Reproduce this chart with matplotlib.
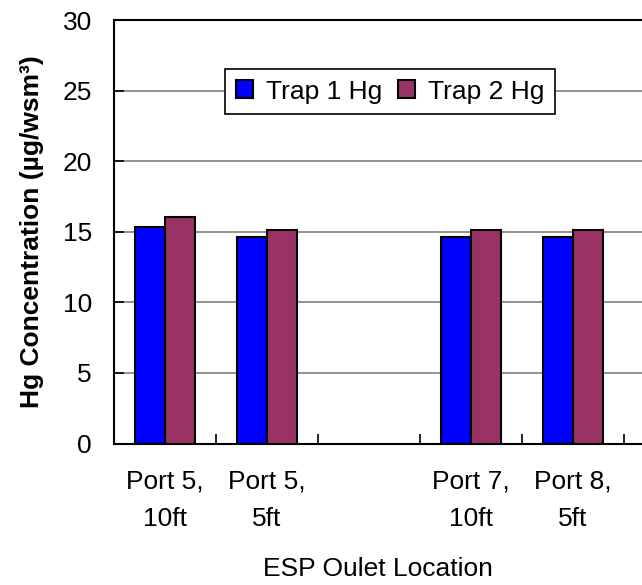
import numpy as np
import matplotlib
matplotlib.use("Agg")
from matplotlib import pyplot as plt

# data
locations = ["Port 5,\n10ft", "Port 5,\n5ft", "", "Port 7,\n10ft", "Port 8,\n5ft"]
trap1_hg = [15.35, 14.65, np.nan, 14.65, 14.65]
trap2_hg = [16.05, 15.1, np.nan, 15.1, 15.1]
yticks = [0, 5, 10, 15, 20, 25, 30]

plt.rcParams['font.family'] = ['Liberation Sans', 'DejaVu Sans']
plt.rcParams['font.size'] = 19

fig = plt.figure(figsize=(6.42, 5.85), dpi=100)
# plot area runs past the right edge of the picture (cropped like the original)
ax = fig.add_axes([114 / 642, 141.5 / 585, 612 / 642, 423.5 / 585])

x = np.arange(len(locations))
w = 0.295
ax.bar(x - w / 2, trap1_hg, w, color="#0000FF", edgecolor="black", linewidth=1.5,
       label="Trap 1 Hg", zorder=3)
ax.bar(x + w / 2, trap2_hg, w, color="#993366", edgecolor="black", linewidth=1.5,
       label="Trap 2 Hg", zorder=3)

ax.set_xlim(-0.5, len(locations) + 0.5)
ax.set_ylim(0, 30)
ax.set_yticks(yticks)
ax.yaxis.grid(True, color="#808080", linewidth=1.2, zorder=0)
ax.set_axisbelow(True)

# tick marks on category boundaries, labels on category centres
ax.set_xticks(np.arange(len(locations) + 2) - 0.5)
ax.set_xticklabels([])
ax.set_xticks(x, minor=True)
ax.set_xticklabels(locations, minor=True, linespacing=1.7)
ax.tick_params(axis='x', which='major', direction='in', length=7, width=1.2)
ax.tick_params(axis='x', which='minor', length=0, pad=19)
ax.tick_params(axis='y', direction='in', length=7, width=1.2, pad=16)

for s in ax.spines.values():
    s.set_linewidth(1.5)

ax.set_ylabel("Hg Concentration (µg/wsm³)", fontweight="bold")
ax.yaxis.set_label_coords(-0.115, 0.5)
ax.set_xlabel("ESP Oulet Location")
ax.xaxis.set_label_coords((378 - 114) / 612, -0.268)

leg = ax.legend(loc="upper left", bbox_to_anchor=(225 / 642, 1 - 69 / 585),
                bbox_transform=fig.transFigure, ncol=2, frameon=True, fancybox=False,
                edgecolor="black", framealpha=1, handlelength=0.65, handleheight=0.65,
                handletextpad=0.5, columnspacing=0.6, borderpad=0.4, borderaxespad=0)
leg.get_frame().set_linewidth(1.2)
leg.set_zorder(5)

fig.savefig("out.png", dpi=100)
